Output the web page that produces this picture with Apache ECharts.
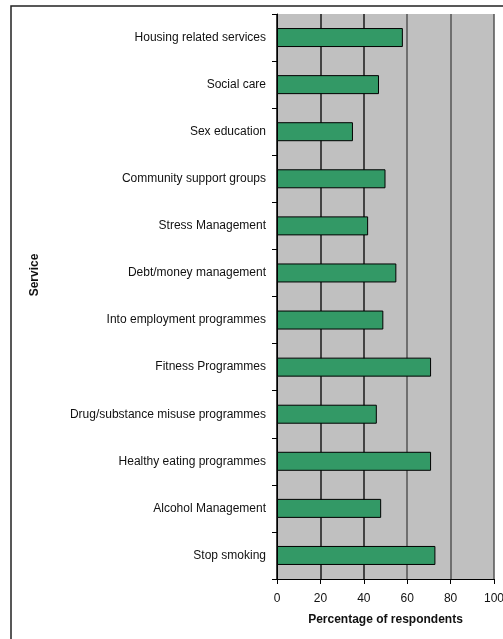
<!DOCTYPE html>
<html>
<head>
<meta charset="utf-8">
<script src="https://cdn.jsdelivr.net/npm/echarts@6/dist/echarts.min.js"></script>
<style>
html,body{margin:0;padding:0;background:#fff;}
#c{width:503px;height:639px;}
</style>
</head>
<body>
<div id="c"></div>
<script>
const categories = [
  "Housing related services",
  "Social care",
  "Sex education",
  "Community support groups",
  "Stress Management",
  "Debt/money management",
  "Into employment programmes",
  "Fitness Programmes",
  "Drug/substance misuse programmes",
  "Healthy eating programmes",
  "Alcohol Management",
  "Stop smoking"
];
const values = [58, 47, 35, 50, 42, 55, 49, 71, 46, 71, 48, 73];
const xTicks = [0, 20, 40, 60, 80, 100];

const chart = echarts.init(document.getElementById('c'), null, {renderer: 'canvas'});
const font = 'Liberation Sans, Arial, sans-serif';
chart.setOption({
  animation: false,
  backgroundColor: '#fff',
  graphic: [{
    type: 'rect',
    shape: {x: 11, y: 6, width: 700, height: 800},
    style: {fill: 'none', stroke: '#222', lineWidth: 1.5},
    z: 100
  }, {
    type: 'text',
    x: 35, y: 275,
    rotation: Math.PI / 2,
    style: {text: 'Service', font: 'bold 12px ' + font, fill: '#111', align: 'center', verticalAlign: 'middle'},
    z: 100
  }],
  grid: {
    left: 277, right: 9, top: 14, bottom: 60,
    outerBoundsMode: 'none', containLabel: false,
    show: true, backgroundColor: '#c0c0c0', borderWidth: 0
  },
  xAxis: {
    type: 'value', min: xTicks[0], max: xTicks[xTicks.length - 1], interval: 20,
    name: 'Percentage of respondents', nameLocation: 'middle', nameGap: 35,
    nameTextStyle: {fontFamily: font, fontWeight: 'bold', fontSize: 12, color: '#111'},
    axisLine: {show: true, lineStyle: {color: '#000', width: 1}},
    axisTick: {show: true, length: 5, lineStyle: {color: '#000'}},
    axisLabel: {fontFamily: font, fontSize: 12, color: '#111', margin: 14},
    splitLine: {show: true, lineStyle: {color: ['#000', '#1a1a1a', '#1a1a1a', '#555', '#555', '#555'], width: 1.5}}
  },
  yAxis: {
    type: 'category', data: categories, inverse: true,
    axisLine: {show: true, lineStyle: {color: '#000', width: 1}},
    axisTick: {show: true, length: 5, lineStyle: {color: '#000'}},
    axisLabel: {fontFamily: font, fontSize: 12, color: '#111', margin: 11},
    splitLine: {show: false}
  },
  series: [{
    type: 'bar', data: values, barWidth: 19,
    itemStyle: {color: '#339966', borderColor: '#000', borderWidth: 1},
    silent: true
  }]
});
</script>
</body>
</html>
